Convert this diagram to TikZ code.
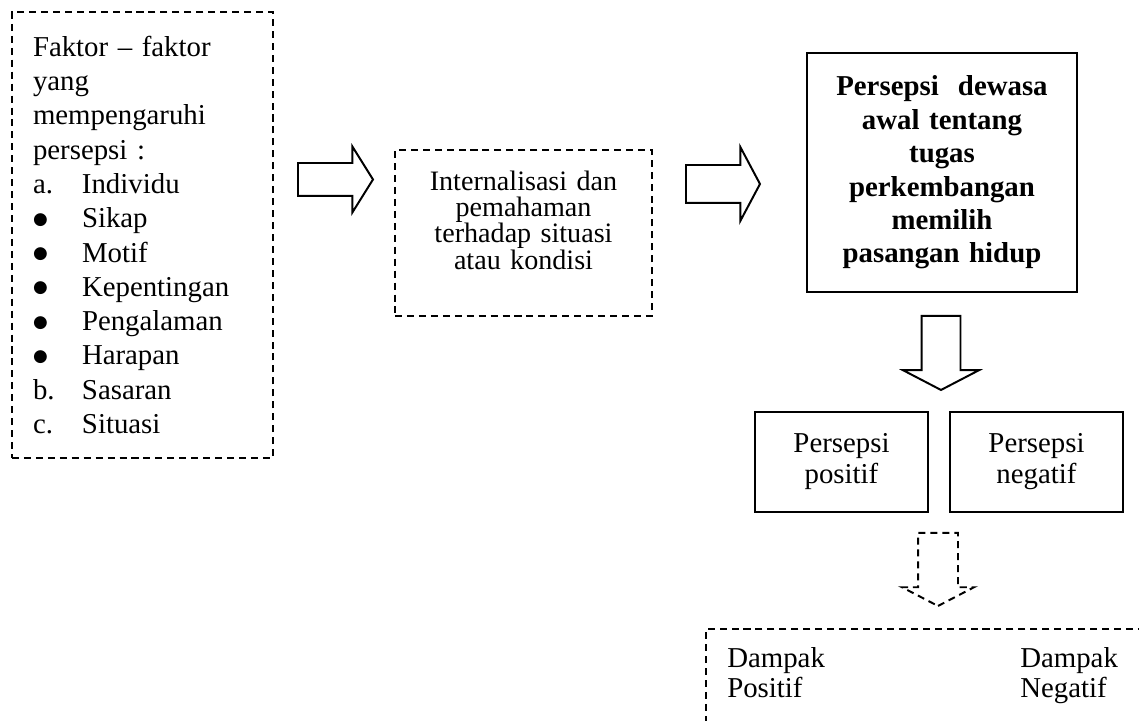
\documentclass[tikz,border=0pt]{standalone}
\usepackage{fontspec}
\setmainfont{Liberation Serif}
\newfontfamily\simbol{DejaVu Sans}
\usetikzlibrary{shapes,shapes.arrows,positioning}
\newcommand{\butir}[2]{\makebox[1.225cm][l]{#1}#2}
\newcommand{\titik}{\raisebox{2.5pt}{\simbol\fontsize{12}{12}\selectfont ●}}

\tikzset{
  kotak/.style={draw, line width=1.4pt, inner sep=0pt},
  putus/.style={dash pattern=on 5pt off 3.5pt},
  panah/.style={single arrow, draw, line width=1.4pt, inner xsep=0pt, anchor=tail},
}

\begin{document}
\begin{tikzpicture}
   \clip (0,0) rectangle (28.475,18.025);
   \node[kotak, putus, minimum width=6.525cm, minimum height=11.15cm, text width=5.475cm, align=left,
     font=\fontsize{20.5}{24.4}\selectfont] (faktor) at (3.5625,12.15)
     {Faktor – faktor\\ yang\\ mempengaruhi\\ persepsi :\\
      \butir{a.}{Individu}\\ \butir{\titik}{Sikap}\\ \butir{\titik}{Motif}\\
      \butir{\titik}{Kepentingan}\\ \butir{\titik}{Pengalaman}\\ \butir{\titik}{Harapan}\\
      \butir{b.}{Sasaran}\\ \butir{c.}{Situasi}};
   \node[panah, minimum height=1.875cm, inner ysep=0.3875cm, single arrow head extend=0.4125cm,
     single arrow tip angle=116] (p1) at (7.425,13.5375) {};
   \node[kotak, putus, minimum width=6.425cm, minimum height=4.15cm, text width=6cm, align=center,
     font=\fontsize{20}{18.7}\selectfont] (intern) at (13.0875,12.2)
     {Internalisasi dan\\ pemahaman\\ terhadap situasi\\ atau kondisi\\ \mbox{}};
   \node[panah, minimum height=1.85cm, inner ysep=0.45cm, single arrow head extend=0.45cm,
     single arrow tip angle=124] (p2) at (17.125,13.425) {};
   \node[kotak, minimum width=6.75cm, minimum height=5.975cm, text width=6.4cm, align=center,
     font=\fontsize{20.5}{23.8}\selectfont\bfseries] (persepsi) at (23.55,13.7125)
     {Persepsi\ \ dewasa\\ awal tentang\\ tugas\\ perkembangan\\ memilih\\ pasangan hidup};
   \node[panah, rotate=-90, minimum height=1.85cm, inner ysep=0.4625cm, single arrow head extend=0.4625cm,
     single arrow tip angle=125] (p3) at (23.525,10.15) {};
   \node[kotak, minimum width=4.325cm, minimum height=2.5cm, text width=4cm, align=center,
     font=\fontsize{20.5}{22}\selectfont] (positif) at (21.0375,6.475) {Persepsi\\ positif};
   \node[kotak, minimum width=4.325cm, minimum height=2.5cm, text width=4cm, align=center,
     font=\fontsize{20.5}{22}\selectfont] (negatif) at (25.9125,6.475) {Persepsi\\ negatif};
   \node[panah, putus, rotate=-90, minimum height=1.825cm, inner ysep=0.475cm, single arrow head extend=0.4cm,
     single arrow tip angle=125] (p4) at (23.45,4.725) {};
   \node[kotak, putus, minimum width=12cm, minimum height=4cm, anchor=north west] (dampak) at (17.625,2.325) {};
   \node[anchor=north west, inner sep=0pt, align=left, font=\fontsize{20.5}{21.3}\selectfont]
     (dpositif) at (18.175,1.85) {Dampak\\ Positif};
   \node[anchor=north west, inner sep=0pt, align=left, font=\fontsize{20.5}{21.3}\selectfont]
     (dnegatif) at (25.5,1.85) {Dampak\\ Negatif};
\end{tikzpicture}
\end{document}
